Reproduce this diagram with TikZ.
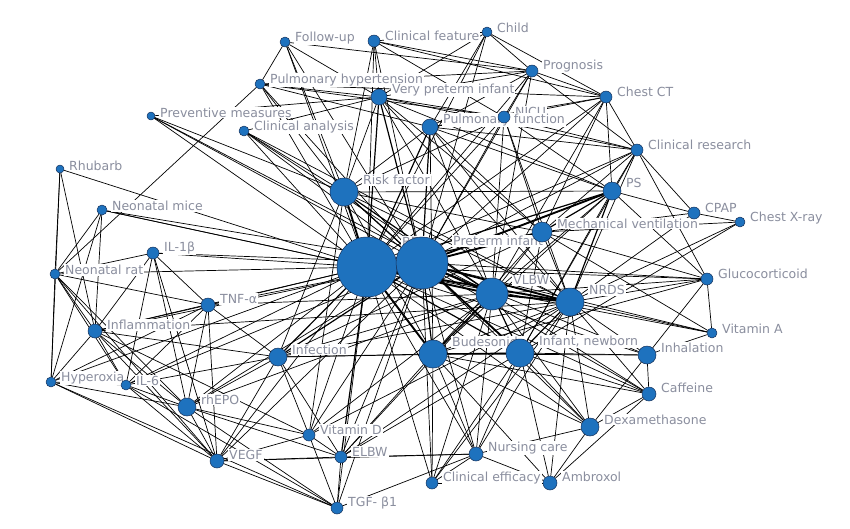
\documentclass[tikz,border=0pt]{standalone}
\usepackage{fontspec}
\setmainfont{DejaVu Sans}
\definecolor{kwblue}{RGB}{30,114,190}
\definecolor{kwrim}{RGB}{22,48,88}
\definecolor{kwtext}{RGB}{138,142,158}
\begin{document}
\begin{tikzpicture}[x=1pt, y=-1pt, line join=round, line cap=round,
	kwdot/.style={fill=kwblue, draw=kwrim, line width=.5pt},
	kwlabel/.style={fill=white, text=kwtext, inner sep=1pt, anchor=west, font=\fontsize{12.5}{14}\selectfont},
	e1/.style={line width=.7pt}, e2/.style={line width=1.2pt},
	e3/.style={line width=1.9pt}, e4/.style={line width=2.9pt}]
		\useasboundingbox (0,0) rectangle (850,528);
		% name/x/y/radius/text
		\def \kwlist{fu/285/42/5/Follow-up, cf/374/41/6/Clinical feature, child/487/32/5/Child,
			prog/532/71/6/Prognosis, ph/260/84/5/Pulmonary hypertension, vpi/379/97/8/Very preterm infant,
			ct/606/97/6/Chest CT, pm/151/116/4/Preventive measures, nicu/504/117/6/NICU,
			pf/430/127/8/Pulmonary function, ca/244/131/5/Clinical analysis, cr/637/150/6/Clinical research,
			rhu/60/169/4/Rhubarb, rf/344/192/14/Risk factor, ps/612/191/9/PS,
			mice/102/210/5/Neonatal mice, cpap/694/213/6/CPAP, xray/740/222/5/Chest X-ray,
			mv/542/232/10/Mechanical ventilation, bpd/367/267/30/BPD, pti/422/263/26/Preterm infant,
			il1/153/253/6/IL-1β, rat/55/274/5/Neonatal rat, gc/707/279/6/Glucocorticoid,
			vlbw/492/294/16/VLBW, nrds/570/302/14/NRDS, tnf/208/305/7/TNF-α,
			infl/95/331/7/Inflammation, vita/712/333/5/Vitamin A, inf/278/357/9/Infection,
			bud/433/354/14/Budesonide, inb/520/353/14/{Infant, newborn}, inh/647/355/9/Inhalation,
			hyp/51/382/5/Hyperoxia, il6/126/385/5/IL-6, caf/649/394/7/Caffeine,
			epo/187/407/9/rhEPO, dex/590/427/9/Dexamethasone, vitd/309/435/6/Vitamin D,
			elbw/341/457/6/ELBW, nc/476/454/7/Nursing care, vegf/217/461/7/VEGF,
			ce/432/483/6/Clinical efficacy, amb/550/483/7/Ambroxol, tgf/337/508/6/TGF- β1}
		\foreach \nm/\px/\py/\rad/\txt in \kwlist
		\node[circle, inner sep=0pt, minimum size=2*\rad pt] (\nm) at (\px,\py) {};
		% co-occurrence links
		\foreach \a/\b in {fu/vpi, fu/bpd, fu/pti, fu/prog, fu/rf, fu/ph,
			cf/prog, cf/child, cf/bpd, cf/pti, cf/rf, cf/vpi, cf/ct, cf/nicu,
			child/prog, child/ct, child/pti, child/bpd, child/vpi, child/pf,
			prog/ct, prog/nicu, prog/pti, prog/bpd, prog/vlbw, prog/cr, prog/ph, prog/pf, prog/vpi,
			ph/bpd, ph/pti, ph/vpi, ph/pf, ph/ct, ph/rat, ph/rf, ph/nicu,
			pm/bpd, pm/pti, pm/vlbw, pm/rf, pm/vpi,
			ca/bpd, ca/pti, ca/vlbw, ca/rf, ca/nrds, ca/vpi,
			rhu/rat, rhu/hyp, rhu/infl, rhu/bpd,
			mice/bpd, mice/pti, mice/infl, mice/hyp, mice/vlbw, mice/rat,
			il1/bpd, il1/pti, il1/infl, il1/tnf, il1/il6, il1/rat, il1/epo, il1/vegf,
			rat/infl, rat/hyp, rat/tnf, rat/bpd, rat/epo, rat/il6, rat/vegf,
			tnf/bpd, tnf/pti, tnf/infl, tnf/il6, tnf/epo, tnf/inf, tnf/hyp, tnf/vegf, tnf/vlbw,
			infl/bpd, infl/pti, infl/il6, infl/hyp, infl/epo, infl/inf, infl/vegf, infl/vitd, infl/nrds,
			hyp/epo, hyp/vegf, hyp/il6, hyp/tgf, hyp/bpd,
			il6/vegf, il6/epo, il6/bpd, il6/inf, il6/tgf, il6/pti,
			epo/vegf, epo/vitd, epo/elbw, epo/bpd, epo/pti, epo/inf, epo/tgf, epo/vlbw,
			inf/rf, inf/vitd, inf/elbw, inf/vlbw, inf/nrds, inf/bud, inf/mv, inf/vegf, inf/inb,
			vegf/tgf, vegf/vitd, vegf/bpd, vegf/pti, vegf/nc, vegf/elbw,
			vitd/bpd, vitd/pti, vitd/elbw, vitd/rf, vitd/vlbw, vitd/nrds,
			elbw/pti, elbw/tgf, elbw/vlbw, elbw/nrds, elbw/bud, elbw/nc, elbw/inb,
			tgf/bpd, tgf/pti, tgf/vitd, tgf/nc,
			ce/bud, ce/bpd, ce/pti, ce/inb, ce/nc, ce/amb, ce/nrds, ce/vlbw,
			nc/bud, nc/inb, nc/bpd, nc/pti, nc/dex, nc/amb, nc/vlbw, nc/nrds,
			amb/dex, amb/inb, amb/bud, amb/nrds, amb/caf,
			dex/bud, dex/inb, dex/bpd, dex/pti, dex/caf, dex/inh, dex/vlbw, dex/nrds,
			caf/inh, caf/inb, caf/bpd, caf/pti, caf/bud, caf/nrds, caf/vlbw,
			inh/bud, inh/inb, inh/bpd, inh/pti, inh/vita, inh/gc, inh/nrds,
			vita/bpd, vita/pti, vita/nrds, vita/gc, vita/mv,
			gc/bpd, gc/pti, gc/vlbw, gc/nrds, gc/cr, gc/mv, gc/bud, gc/ps,
			xray/mv, xray/nrds, xray/inb, xray/cpap,
			cpap/ps, cpap/cr, cpap/nrds, cpap/mv,
			ps/vlbw, ps/cr, ps/inb, ps/nicu, ps/bud, ps/vpi,
			cr/ct, cr/bpd, cr/pti, cr/vpi, cr/pf, cr/nicu, cr/nrds, cr/inb, cr/mv,
			ct/nicu, ct/pf, ct/bpd, ct/pti, ct/ps, ct/mv, ct/vlbw,
			nicu/bpd, nicu/pti, nicu/vlbw, nicu/rf, nicu/nrds, nicu/mv, nicu/vpi,
			pf/rf, pf/vlbw, pf/mv, pf/ps, pf/nicu, pf/bud, pf/nrds,
			vpi/rf, vpi/vlbw, vpi/nrds, vpi/mv,
			rf/nrds, rf/mv, rf/bud, rf/inb, rf/ps,
			mv/vlbw, mv/nrds, mv/inb, mv/bud, nrds/bud}
		\draw[e1] (\a) -- (\b);
		\foreach \a/\b in {bpd/vpi, pti/vpi, bpd/pf, pti/pf, pti/rf, bpd/inb, pti/bud, vlbw/bud,
			vlbw/inb, nrds/inb, bud/inb, bpd/mv, bpd/ps, bpd/inf, pti/inf, rf/vlbw, ps/nrds, ps/mv, bpd/elbw}
		\draw[e2] (\a) -- (\b);
		\foreach \a/\b in {bpd/vlbw, bpd/rf, pti/vlbw, bpd/bud, pti/nrds, bpd/nrds, pti/mv, ps/pti,
			vlbw/nrds, pti/inb}
		\draw[e3] (\a) -- (\b);
		\draw[e4] (bpd) -- (pti);
		% labels, then the dots on top
		\foreach \nm/\px/\py/\rad/\txt in \kwlist
		\node[kwlabel] at (\px+\rad+4, \py-0.85*\rad) {\txt};
		\foreach \nm/\px/\py/\rad/\txt in \kwlist
		\filldraw[kwdot] (\nm.center) circle[radius=\rad];
\end{tikzpicture}
\end{document}
